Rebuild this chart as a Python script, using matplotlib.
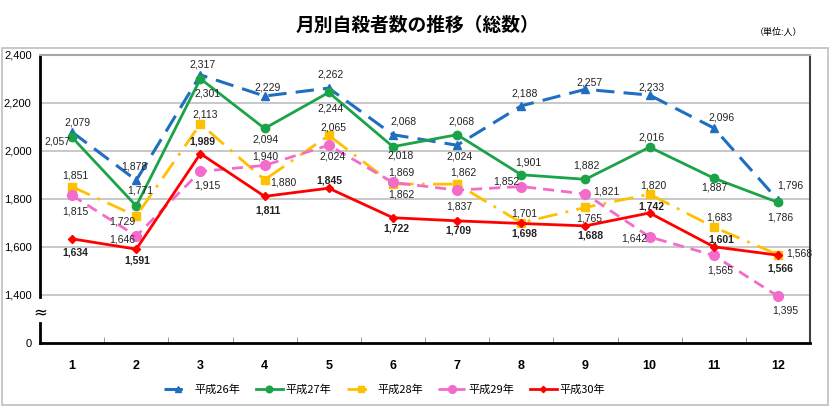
import matplotlib
matplotlib.use("Agg")
import matplotlib.pyplot as plt
from matplotlib.patches import Rectangle

plt.rcParams['font.family'] = ['Liberation Sans', 'Noto Sans CJK JP']

# --- data (単位: 人) ---
months = list(range(1, 13))
h26 = [2079, 1878, 2317, 2229, 2262, 2068, 2024, 2188, 2257, 2233, 2096, 1796]
h27 = [2057, 1771, 2301, 2094, 2244, 2018, 2068, 1901, 1882, 2016, 1887, 1786]
h28 = [1851, 1729, 2113, 1880, 2065, 1862, 1862, 1701, 1765, 1820, 1683, 1568]
h29 = [1815, 1646, 1915, 1940, 2024, 1869, 1837, 1852, 1821, 1642, 1565, 1395]
h30 = [1634, 1591, 1989, 1811, 1845, 1722, 1709, 1698, 1688, 1742, 1601, 1566]
labels = ['平成26年', '平成27年', '平成28年', '平成29年', '平成30年']
y_ticks = [1200, 1400, 1600, 1800, 2000, 2200, 2400]
y_ticklabels = ['0', '1,400', '1,600', '1,800', '2,000', '2,200', '2,400']

# label offsets in pixels (dx, dy), one per month
off26 = [(5, 10), (-2, 14), (2, 10), (3, 9), (2, 14), (11, 13), (2, -11),
         (3, 12), (4, 7), (2, 8), (8, 10), (12, 14)]
off27 = [(-15, -4), (4, 15), (7, -15), (1, -11), (2, -16), (8, -9), (4, 13),
         (7, 12), (1, 14), (2, 10), (1, -9), (2, -15)]
off28 = [(3, 11), (-14, -5), (5, 9), (19, -3), (5, 8), (8, -10), (6, 12),
         (3, 9), (4, -11), (4, 9), (6, 10), (21, 1)]
off29 = [(3, -16), (-14, -4), (7, -14), (1, 9), (4, -11), (8, 10), (2, -16),
         (-15, 5), (21, 2), (-15, -2), (6, -15), (7, -14)]
off30 = [(3, -14), (1, -11), (2, 12), (3, -14), (1, 8), (3, -11), (1, -10),
         (3, -10), (5, -10), (2, 6), (8, 7), (2, -13)]

series = [
    (h26, off26, dict(color='#1F6EC1', ls=(0, (6, 3)), lw=2.2, marker='^', ms=6)),
    (h27, off27, dict(color='#1BA347', ls='-', lw=2.0, marker='o', ms=6)),
    (h28, off28, dict(color='#FFC000', ls=(0, (7, 3, 1, 3)), lw=2.0, marker='s', ms=6)),
    (h29, off29, dict(color='#F36BCB', ls=(0, (4, 2.5)), lw=2.0, marker='o', ms=7)),
    (h30, off30, dict(color='#FF0000', ls='-', lw=2.0, marker='D', ms=4)),
]

fig = plt.figure(figsize=(8.3, 4.08), dpi=100)
fig.patches.append(Rectangle((2 / 830, 3 / 408), 826 / 830, 357 / 408,
                             transform=fig.transFigure, fill=False,
                             edgecolor='#BFBFBF', lw=1.2))
ax = fig.add_axes([40 / 830, 1 - 343 / 408, 770 / 830, 288 / 408])

for (vals, offs, style), lab in zip(series, labels):
    ax.plot(months, vals, label=lab, **style)

for (vals, offs, style), lab in zip(series, labels):
    bold = lab == '平成30年'
    for m, v, (dx, dy) in zip(months, vals, offs):
        ax.annotate(f'{v:,}', (m, v), xytext=(dx, dy), textcoords='offset pixels',
                    ha='center', va='center', fontsize=7.5, color='#222222',
                    fontweight='bold' if bold else 'normal')

ax.set_xlim(0.5, 12.5)
ax.set_ylim(1200, 2400)
ax.set_xticks(months)
ax.set_xticklabels([str(m) for m in months], fontsize=9, fontweight='bold')
ax.set_xticks([m + 0.5 for m in months[:-1]], minor=True)
ax.tick_params(axis='x', which='major', length=0, pad=12)
ax.tick_params(axis='x', which='minor', length=4, direction='in', color='#888888')
ax.set_yticks(y_ticks)
ax.set_yticklabels(y_ticklabels, fontsize=8)
ax.tick_params(axis='y', length=0, pad=6)

for y in y_ticks[1:-1]:
    ax.axhline(y, color='#BFBFBF', lw=1.2, zorder=0)

ax.spines['top'].set_color('#A6A6A6')
ax.spines['top'].set_linewidth(1.5)
ax.spines['right'].set_color('#404040')
ax.spines['right'].set_linewidth(1.5)
ax.spines['bottom'].set_color('#000000')
ax.spines['bottom'].set_linewidth(2)
ax.spines['left'].set_visible(False)

# broken y-axis
ax.plot([0, 0], [0.16, 1], transform=ax.transAxes, color='#000000', lw=2, clip_on=False)
ax.plot([0, 0], [0, 0.07], transform=ax.transAxes, color='#000000', lw=2, clip_on=False)
ax.text(0, 0.105, '≈', transform=ax.transAxes, ha='center', va='center',
        fontsize=12, family='DejaVu Sans')

fig.text(417 / 830, 1 - 25 / 408, '月別自殺者数の推移（総数）', ha='center', va='center',
         fontsize=13.5, fontweight='bold', family='Noto Sans CJK JP')
fig.text(778 / 830, 1 - 32 / 408, '（単位:人）', ha='center', va='center',
         fontsize=6.5, family='Noto Sans CJK JP')

fig.legend(loc='center', bbox_to_anchor=(385 / 830, 1 - 390 / 408), ncol=5,
           frameon=False, handlelength=2.4, columnspacing=1.4,
           handletextpad=0.3, markerscale=0.8,
           prop={'family': ['Noto Sans CJK JP'], 'size': 8})

fig.savefig('out.png', dpi=100)
